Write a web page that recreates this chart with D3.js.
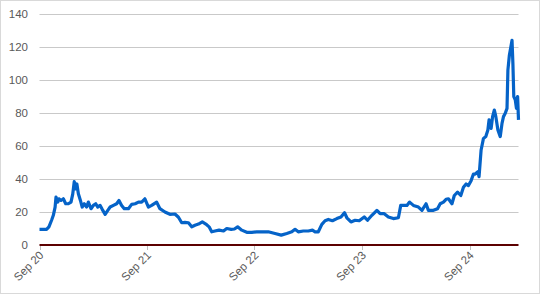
<!DOCTYPE html>
<html>
<head>
<meta charset="utf-8">
<script src="https://cdn.jsdelivr.net/npm/d3@7"></script>
<style>
	body { margin: 0; background: #fff; }
	svg { display: block; font-family: "Liberation Sans", Arial, sans-serif; }
</style>
</head>
<body>
<svg id="chart" width="546" height="296"></svg>
<script>
// values
const dates = [
	"2020-09-01", "2020-09-25", "2020-10-03", "2020-10-12", "2020-10-18", "2020-10-24", "2020-10-27", "2020-11-02",
	"2020-11-06", "2020-11-13", "2020-11-21", "2020-11-29", "2020-12-08", "2020-12-17", "2020-12-23", "2020-12-28",
	"2021-01-02", "2021-01-06", "2021-01-11", "2021-01-18", "2021-01-24", "2021-01-31", "2021-02-08", "2021-02-14",
	"2021-02-23", "2021-03-03", "2021-03-11", "2021-03-18", "2021-03-26", "2021-04-02", "2021-04-12", "2021-04-21",
	"2021-04-29", "2021-05-10", "2021-05-21", "2021-05-29", "2021-06-07", "2021-06-16", "2021-06-30", "2021-07-11",
	"2021-07-23", "2021-08-03", "2021-08-14", "2021-08-25", "2021-09-06", "2021-09-17", "2021-10-04", "2021-10-15",
	"2021-11-01", "2021-11-18", "2021-12-05", "2021-12-17", "2021-12-28", "2022-01-08", "2022-01-20", "2022-01-31",
	"2022-02-11", "2022-02-23", "2022-03-08", "2022-03-20", "2022-03-31", "2022-04-09", "2022-04-20", "2022-05-04",
	"2022-05-19", "2022-05-30", "2022-06-14", "2022-06-25", "2022-07-06", "2022-07-20", "2022-08-06", "2022-08-23",
	"2022-09-09", "2022-09-26", "2022-10-18", "2022-11-10", "2022-12-01", "2022-12-20", "2023-01-06", "2023-01-17",
	"2023-01-28", "2023-02-14", "2023-03-03", "2023-03-17", "2023-03-26", "2023-04-06", "2023-04-18", "2023-04-29",
	"2023-05-10", "2023-05-24", "2023-06-08", "2023-06-22", "2023-07-04", "2023-07-12", "2023-07-26", "2023-08-09",
	"2023-08-23", "2023-09-09", "2023-09-20", "2023-10-05", "2023-10-22", "2023-11-02", "2023-11-16", "2023-11-30",
	"2023-12-17", "2024-01-03", "2024-01-11", "2024-01-20", "2024-02-01", "2024-02-10", "2024-02-23", "2024-03-11",
	"2024-03-23", "2024-04-06", "2024-04-14", "2024-05-01", "2024-05-15", "2024-05-24", "2024-06-04", "2024-06-13",
	"2024-06-21", "2024-07-03", "2024-07-11", "2024-07-22", "2024-08-02", "2024-08-11", "2024-08-20", "2024-08-28",
	"2024-09-06", "2024-09-14", "2024-09-20", "2024-09-29", "2024-10-03", "2024-10-10", "2024-10-18", "2024-10-26",
	"2024-11-02", "2024-11-06", "2024-11-13", "2024-11-18", "2024-11-24", "2024-11-29", "2024-12-06", "2024-12-14",
	"2024-12-20", "2024-12-25", "2024-12-31", "2025-01-06", "2025-01-09", "2025-01-14", "2025-01-17", "2025-01-23",
	"2025-01-26", "2025-01-29", "2025-02-03", "2025-02-07", "2025-02-11", "2025-02-14"
];
const values = [
	9.5, 9.5, 11, 15, 18, 23, 29, 26,
	28, 27, 28, 25, 25, 26, 31, 38.4,
	34, 37, 31, 27, 23, 25, 23, 26,
	22, 24, 25, 23, 24, 21.6, 18.6, 21,
	23, 24, 25, 27, 24, 22, 22, 24.6,
	25, 26, 26, 28, 23, 24, 26, 22,
	20, 18.6, 18.8, 16.8, 13.5, 13.7, 13.5, 11,
	12, 12.7, 14, 12.7, 11, 8, 8.5, 9,
	8.5, 10, 9.5, 9.7, 11, 9, 7.7, 7.7,
	8, 8, 8, 7, 6, 7, 8, 9.5,
	8, 8.5, 8.5, 9, 8, 8, 12.5, 14.7,
	15.5, 14.7, 16, 17, 19.6, 16.5, 14, 15,
	14.7, 17, 15, 18, 21, 19, 19, 17,
	16, 16.5, 24, 24, 24, 26, 24, 23,
	21, 25, 21, 21, 22, 25, 26, 27.7,
	28, 25, 30, 32, 30, 35, 37, 36,
	39, 43, 43, 44.4, 41.4, 57.6, 64.6, 65.7,
	69.7, 75.8, 70.7, 77.8, 81.8, 77.8, 69.7, 65.7,
	73.7, 77.8, 79.8, 82.8, 106, 115, 118, 124,
	110, 90, 88, 82.8, 90, 75.8
];
const yTicks = [0, 20, 40, 60, 80, 100, 120, 140];
const xTickDates = ["2020-09-01", "2021-09-01", "2022-09-01", "2023-09-01", "2024-09-01"];
const xTickLabels = ["Sep 20", "Sep 21", "Sep 22", "Sep 23", "Sep 24"];

const parse = d3.timeParse("%Y-%m-%d");
const series = dates.map((d, i) => ({ date: parse(d), value: values[i] }));

const svg = d3.select("#chart");

// chart border
svg.append("rect")
	.attr("x", 0.5).attr("y", 0.5)
	.attr("width", 539).attr("height", 293)
	.attr("fill", "#fff")
	.attr("stroke", "#d9d9d9");

const x = d3.scaleTime()
	.domain([parse("2020-09-01"), parse("2025-02-14")])
	.range([39.5, 518.5]);

const y = d3.scaleLinear()
	.domain([0, 140])
	.range([245, 14]);

// gridlines
svg.append("g")
	.selectAll("line")
	.data(yTicks.filter(t => t !== 0))
	.join("line")
	.attr("x1", x.range()[0]).attr("x2", x.range()[1])
	.attr("y1", d => Math.round(y(d)) + 0.5).attr("y2", d => Math.round(y(d)) + 0.5)
	.attr("stroke", "#c9c9c9").attr("stroke-width", 1);

// y labels
svg.append("g")
	.selectAll("text")
	.data(yTicks)
	.join("text")
	.attr("x", 28)
	.attr("y", d => y(d))
	.attr("dy", "0.35em")
	.attr("text-anchor", "end")
	.attr("font-size", 11.5)
	.attr("fill", "#595959")
	.text(d => d);

// x tick marks and rotated labels
const xt = svg.append("g");
xt.selectAll("line")
	.data(xTickDates)
	.join("line")
	.attr("x1", d => Math.round(x(parse(d))) + 0.5).attr("x2", d => Math.round(x(parse(d))) + 0.5)
	.attr("y1", 245).attr("y2", 250)
	.attr("stroke", "#bfbfbf");

xt.selectAll("text")
	.data(xTickDates)
	.join("text")
	.attr("transform", d => `translate(${x(parse(d)) + 2},${253}) rotate(-45)`)
	.attr("text-anchor", "end")
	.attr("dy", "0.35em")
	.attr("font-size", 11.5)
	.attr("fill", "#595959")
	.text((d, i) => xTickLabels[i]);

// series line
svg.append("path")
	.datum(series)
	.attr("fill", "none")
	.attr("stroke", "#0563c8")
	.attr("stroke-width", 3.2)
	.attr("stroke-linejoin", "round")
	.attr("d", d3.line().x(d => x(d.date)).y(d => y(d.value)));

// zero axis line
svg.append("line")
	.attr("x1", x.range()[0]).attr("x2", x.range()[1])
	.attr("y1", y(0)).attr("y2", y(0))
	.attr("stroke", "#5c0000").attr("stroke-width", 2);
</script>
</body>
</html>
